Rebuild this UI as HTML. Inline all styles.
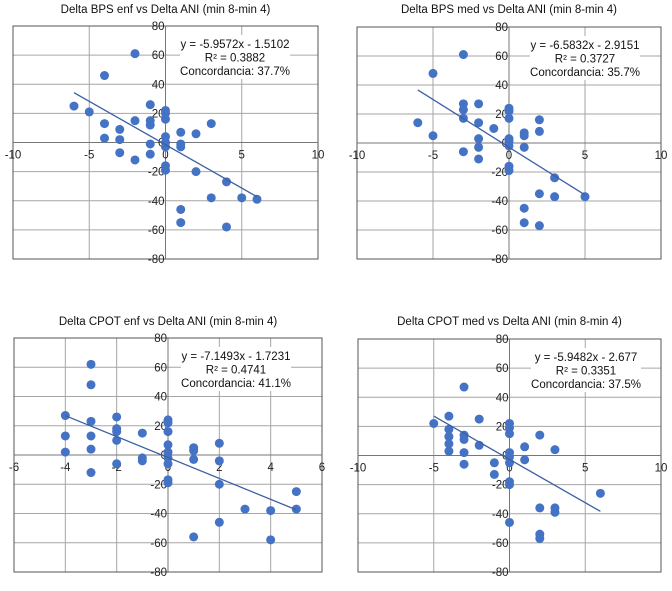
<!DOCTYPE html>
<html><head><meta charset="utf-8"><style>
body{margin:0;background:#fff;width:672px;height:586px;overflow:hidden}
svg{font-family:"Liberation Sans",sans-serif}
</style></head><body>
<svg id="c" width="672" height="586"></svg>
<script>
const titles=["Delta BPS enf vs Delta ANI (min 8-min 4)","Delta BPS med vs Delta ANI (min 8-min 4)","Delta CPOT enf vs Delta ANI (min 8-min 4)","Delta CPOT med vs Delta ANI (min 8-min 4)"];
const equations=["y = -5.9572x - 1.5102","y = -6.5832x - 2.9151","y = -7.1493x - 1.7231","y = -5.9482x - 2.677"];
const r2Labels=["R² = 0.3882","R² = 0.3727","R² = 0.4741","R² = 0.3351"];
const concLabels=["Concordancia: 37.7%","Concordancia: 35.7%","Concordancia: 41.1%","Concordancia: 37.5%"];
const slopes=[-5.9572,-6.5832,-7.1493,-5.9482];
const intercepts=[-1.5102,-2.9151,-1.7231,-2.677];
const trendRanges=[[-6,6],[-6,5],[-4,5],[-5,6]];
const xTicks1=[-10,-5,0,5,10];
const xTicks3=[-6,-4,-2,0,2,4,6];
const yTicks=[-80,-60,-40,-20,0,20,40,60,80];
const xs1=[-2,-4,-6,-5,-4,-4,-3,-3,-3,-2,-2,-1,-1,-1,-1,-1,0,0,0,0,0,0,0,0,1,1,1,1,1,2,2,3,3,4,4,5,6];
const ys1=[61,46,25,21,13,3,9,2,-7,15,-12,26,15,12,-1,-8,22,20,16,4,0,-3,-16,-19,7,-1,-3,-46,-55,6,-20,13,-38,-27,-58,-38,-39];
const xs2=[-3,-5,-6,-5,-3,-3,-3,-3,-2,-2,-2,-2,-2,-1,0,0,0,0,0,0,0,0,1,1,1,1,1,2,2,2,2,3,3,5];
const ys2=[61,48,14,5,27,23,17,-6,27,14,3,-3,-11,10,24,22,17,3,1,-2,-16,-19,7,5,-3,-45,-55,16,8,-35,-57,-24,-37,-37];
const xs3=[-3,-3,-4,-4,-4,-3,-3,-3,-3,-2,-2,-2,-2,-2,-1,-1,-1,0,0,0,0,0,0,0,0,0,1,1,1,1,2,2,2,2,3,4,4,5,5];
const ys3=[62,48,27,13,2,23,13,4,-12,26,18,16,10,-6,15,-2,-4,24,22,16,7,2,-2,-6,-17,-19,5,3,-3,-56,8,-4,-20,-46,-37,-38,-58,-25,-37];
const xs4=[-3,-5,-4,-4,-4,-4,-4,-3,-3,-3,-3,-2,-2,-1,-1,0,0,0,0,0,0,0,0,0,1,1,2,2,2,2,3,3,3,6];
const ys4=[47,22,27,18,13,8,3,14,11,2,-6,25,7,-5,-13,22,19,15,2,-1,-5,-18,-20,-46,6,-3,14,-36,-54,-57,4,-36,-39,-26];
const panels=[
 {L:13,R:318,T:26,B:259,xmin:-10,xmax:10,ticks:xTicks1,xs:xs1,ys:ys1,ty:13,eqx:235},
 {L:357,R:661,T:27,B:259,xmin:-10,xmax:10,ticks:xTicks1,xs:xs2,ys:ys2,ty:13,eqx:585},
 {L:14,R:322,T:338,B:572,xmin:-6,xmax:6,ticks:xTicks3,xs:xs3,ys:ys3,ty:325,eqx:236},
 {L:358,R:661,T:339,B:572,xmin:-10,xmax:10,ticks:xTicks1,xs:xs4,ys:ys4,ty:325,eqx:586}
];
const svg=document.getElementById('c');
const NS='http://www.w3.org/2000/svg';
function mk(tag,attrs,parent){const e=document.createElementNS(NS,tag);for(const k in attrs)e.setAttribute(k,attrs[k]);parent.appendChild(e);return e;}
panels.forEach((p,i)=>{
 const g=mk('g',{},svg);
 
 
 const sx=v=>p.L+(v-p.xmin)/(p.xmax-p.xmin)*(p.R-p.L);
 const sy=v=>p.B-(v+80)/160*(p.B-p.T);
 const t=mk('text',{x:(p.L+p.R)/2,y:p.ty,'text-anchor':'middle','font-size':'11.5',fill:'#111'},g);t.textContent=titles[i];
 
 
 p.ticks.forEach(v=>{const l=mk('line',{x1:sx(v),x2:sx(v),y1:p.T,y2:p.B,stroke:'#a6a6a6','stroke-width':1},g);
  
  });
 yTicks.forEach(v=>{const l=mk('line',{x1:p.L,x2:p.R,y1:sy(v),y2:sy(v),stroke:'#a6a6a6','stroke-width':1},g);
  
  });
 mk('rect',{x:p.L,y:p.T,width:p.R-p.L,height:p.B-p.T,fill:'none',stroke:'#555','stroke-width':1},g);
 const x0=sx(0),y0=sy(0);
 mk('line',{x1:p.L,x2:p.R,y1:y0,y2:y0,stroke:'#777','stroke-width':1},g);
 mk('line',{x1:x0,x2:x0,y1:p.T,y2:p.B,stroke:'#777','stroke-width':1},g);
 yTicks.forEach(v=>{const tx=mk('text',{x:x0-1,y:sy(v)+4,'text-anchor':'end','font-size':'11.5',fill:'#222'},g);tx.textContent=v;
  
  });
 p.ticks.forEach(v=>{const tx=mk('text',{x:sx(v),y:y0+16,'text-anchor':'middle','font-size':'11.5',fill:'#222'},g);tx.textContent=v;
  
  });
 const eg=mk('g',{},g);
 
 
 mk('rect',{x:p.eqx-55,y:p.T+9,width:110,height:44,fill:'#fff'},eg);
 [equations[i],r2Labels[i],concLabels[i]].forEach((s,k)=>{const tx=mk('text',{x:p.eqx,y:p.T+22+k*13.5,'text-anchor':'middle','font-size':'11.5',fill:'#111'},eg);tx.textContent=s;});
 p.xs.forEach((xv,k)=>{const c=mk('circle',{cx:sx(xv),cy:sy(p.ys[k]),r:4.5,fill:'#4472c4'},g);
  
  });
 const [a,b]=trendRanges[i];
 const tl=mk('line',{x1:sx(a),y1:sy(slopes[i]*a+intercepts[i]),x2:sx(b),y2:sy(slopes[i]*b+intercepts[i]),stroke:'#3b5fa3','stroke-width':1.3},g);
 
 
});
</script>
</body></html>
